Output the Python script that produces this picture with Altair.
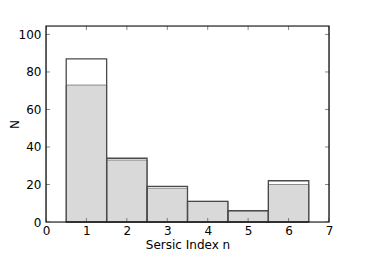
import altair as alt
import pandas as pd

bin_start = [0.5, 1.5, 2.5, 3.5, 4.5, 5.5]
bin_end = [1.5, 2.5, 3.5, 4.5, 5.5, 6.5]
total_counts = [87, 34, 19, 11, 6, 22]
sub_counts = [73, 33, 18, 11, 6, 20]
x_ticks = [0, 1, 2, 3, 4, 5, 6, 7]
y_ticks = [0, 20, 40, 60, 80, 100]

df = pd.DataFrame({"x0": bin_start, "x1": bin_end, "total": total_counts, "sub": sub_counts})
xt = pd.DataFrame({"t": x_ticks})
yt = pd.DataFrame({"t": y_ticks})

XMAX = 7
YMAX = 104.5
xs = alt.Scale(domain=[0, XMAX], nice=False, zero=False)
ys = alt.Scale(domain=[0, YMAX], nice=False)

xaxis = alt.Axis(values=x_ticks, title="Sersic Index n", ticks=False, grid=False, domain=False,
                 labelOverlap=False, labelFlush=False, labelFontSize=12, labelColor="black", labelPadding=3,
                 labelFont="DejaVu Sans",
                 titleFontSize=12, titleFontWeight="normal", titleColor="black", titleFont="DejaVu Sans", titlePadding=3)
yaxis = alt.Axis(values=y_ticks, title="N", ticks=False, grid=False, domain=False,
                 labelOverlap=False, labelFlush=False, labelFontSize=12, labelColor="black", labelPadding=5,
                 labelFont="DejaVu Sans",
                 titleFontSize=12, titleFontWeight="normal", titleColor="black", titleFont="DejaVu Sans",
                 titleX=-32, titleY=98, titleAngle=-90, titleAlign="center", titleBaseline="middle")

gray = alt.Chart(df).mark_rect(fill="#d9d9d9", stroke="#8a8a8a", strokeWidth=1).encode(
    x=alt.X("x0:Q", scale=xs, axis=xaxis), x2="x1", y=alt.Y("sub:Q", scale=ys, axis=yaxis), y2=alt.datum(0))
outline = alt.Chart(df).mark_rect(fill=None, fillOpacity=0, stroke="#4a4a4a", strokeWidth=1.3).encode(
    x=alt.X("x0:Q", scale=xs, axis=xaxis), x2="x1", y=alt.Y("total:Q", scale=ys, axis=yaxis), y2=alt.datum(0))

tb = alt.Chart(xt).mark_tick(clip=True, size=8, thickness=1, color="#555", orient="vertical").encode(
    x=alt.X("t:Q", scale=xs, axis=xaxis), y=alt.Y(datum=0, scale=ys, axis=yaxis))
tt = alt.Chart(xt).mark_tick(clip=True, size=8, thickness=1, color="#555", orient="vertical").encode(
    x=alt.X("t:Q", scale=xs, axis=xaxis), y=alt.Y(datum=YMAX, scale=ys, axis=yaxis))
tl = alt.Chart(yt).mark_tick(clip=True, size=8, thickness=1, color="#555", orient="horizontal").encode(
    y=alt.Y("t:Q", scale=ys, axis=yaxis), x=alt.X(datum=0, scale=xs, axis=xaxis))
tr = alt.Chart(yt).mark_tick(clip=True, size=8, thickness=1, color="#555", orient="horizontal").encode(
    y=alt.Y("t:Q", scale=ys, axis=yaxis), x=alt.X(datum=XMAX, scale=xs, axis=xaxis))

frame = alt.Chart(pd.DataFrame({"a": [0]})).mark_rect(fill=None, fillOpacity=0, stroke="black", strokeWidth=1.2).encode(
    x=alt.X(datum=0, scale=xs, axis=xaxis), x2=alt.datum(XMAX),
    y=alt.Y(datum=0, scale=ys, axis=yaxis), y2=alt.datum(YMAX))

chart = alt.layer(gray, outline, tb, tt, tl, tr, frame).properties(
    width=283, height=196, autosize=alt.AutoSizeParams(type="none"),
    padding={"left": 38, "top": 18, "right": 20, "bottom": 40}
).configure_view(stroke=None).configure(background="white")

chart.save("out.html", embed_options={"renderer": "svg", "actions": False})
